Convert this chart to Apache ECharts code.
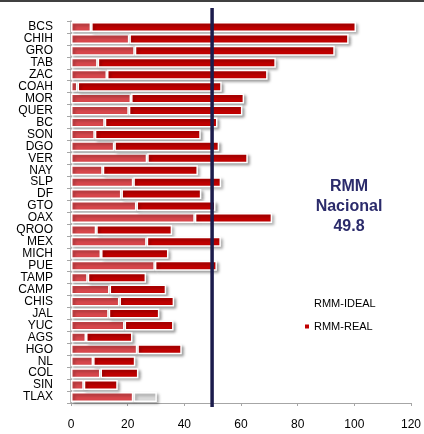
<!DOCTYPE html>
<html>
<head>
<meta charset="utf-8">
<script src="https://cdn.jsdelivr.net/npm/echarts@6/dist/echarts.min.js"></script>
<style>html,body{margin:0;padding:0;background:#fff}#c{width:424px;height:434px}</style>
</head>
<body>
<div id="c"></div>
<script>
const categories = ['BCS','CHIH','GRO','TAB','ZAC','COAH','MOR','QUER','BC','SON','DGO','VER','NAY','SLP','DF','GTO','OAX','QROO','MEX','MICH','PUE','TAMP','CAMP','CHIS','JAL','YUC','AGS','HGO','NL','COL','SIN','TLAX'];
const rmmIdeal = [7.1,20.6,22.5,9.4,12.7,2.3,21.2,20.4,11.9,8.4,15.3,26.9,11.2,22.0,17.8,23.1,43.7,8.9,26.7,10.6,29.6,5.9,13.6,17.1,13.3,18.9,5.3,23.4,7.8,10.4,4.5,22.0];
const rmmReal = [100.6,98.0,93.1,72.3,69.4,53.2,61.1,60.5,51.7,45.8,52.3,62.4,44.8,53.0,46.0,51.0,71.0,35.7,52.9,34.4,51.5,26.5,33.6,36.4,31.2,36.2,21.7,39.1,22.7,23.8,16.5,30.3];
const rmmNacional = 49.8;
const xTicks = [0,20,40,60,80,100,120];

const chart = echarts.init(document.getElementById('c'), null, {renderer:'canvas'});
const shadow = {shadowColor:'rgba(0,0,0,0.35)', shadowBlur:3, shadowOffsetX:2, shadowOffsetY:2};
const realDiff = rmmReal.map((v,i) => {
  const d = +(v - rmmIdeal[i]).toFixed(1);
  if (categories[i] === 'TLAX') return {value:d, itemStyle:{color:'#d9d9d9'}};
  return d;
});
chart.setOption({
  animation:false,
  backgroundColor:'#ffffff',
  textStyle:{fontFamily:'Liberation Sans, Arial, sans-serif'},
  grid:{left:71, right:12, top:21, bottom:31, containLabel:false},
  xAxis:{
    type:'value', min:xTicks[0], max:xTicks[xTicks.length-1], interval:20,
    axisLine:{show:true, lineStyle:{color:'#a6a6a6', width:1}},
    axisTick:{show:true, length:3, inside:false, lineStyle:{color:'#a6a6a6'}},
    axisLabel:{color:'#000', fontSize:12, margin:16},
    splitLine:{show:false}
  },
  yAxis:{
    type:'category', data:categories, inverse:true,
    axisLine:{show:true, lineStyle:{color:'#a6a6a6', width:1.5}},
    axisTick:{show:true, length:4, lineStyle:{color:'#a6a6a6'}},
    axisLabel:{color:'#000', fontSize:12, margin:18, interval:0}
  },
  legend:{
    orient:'vertical', left:300, top:293, itemWidth:4, itemHeight:4, itemGap:12,
    textStyle:{fontSize:11, color:'#000', fontFamily:'Liberation Sans, Arial, sans-serif'},
    data:[
      {name:'RMM-IDEAL', icon:'rect', itemStyle:{color:'#ffffff', borderWidth:0, shadowBlur:0, shadowOffsetX:0, shadowOffsetY:0}},
      {name:'RMM-REAL', icon:'rect', itemStyle:{color:'#c00000', borderWidth:0, shadowBlur:0, shadowOffsetX:0, shadowOffsetY:0}}
    ]
  },
  graphic:[
    {type:'line', shape:{x1:0,y1:1,x2:424,y2:1}, style:{stroke:'#404040', lineWidth:2}},
    {type:'text', x:349, y:177, style:{text:'RMM\nNacional\n' + rmmNacional.toFixed(1), fill:'#2b2b6b', font:'bold 16px "Liberation Sans", Arial, sans-serif', align:'center', lineHeight:20}}
  ],
  series:[
    {name:'RMM-IDEAL', type:'bar', stack:'s', data:rmmIdeal, barWidth:10,
      itemStyle:Object.assign({color:'#d8474c', borderColor:'#ffffff', borderWidth:1.5}, shadow)},
    {name:'RMM-REAL', type:'bar', stack:'s', data:realDiff, barWidth:10,
      itemStyle:Object.assign({color:'#c00000', borderColor:'#ffffff', borderWidth:1.5}, shadow)},
    {name:'nacional', type:'custom', data:[[rmmNacional]], z:10,
      renderItem:function(params, api){
        const x = api.coord([api.value(0), 0])[0];
        const cs = params.coordSys;
        return {type:'line', shape:{x1:x, y1:cs.y-13, x2:x, y2:cs.y+cs.height+4}, style:{stroke:'#1c1c4c', lineWidth:3.5}};
      }, encode:{x:0}}
  ]
});
</script>
</body>
</html>
